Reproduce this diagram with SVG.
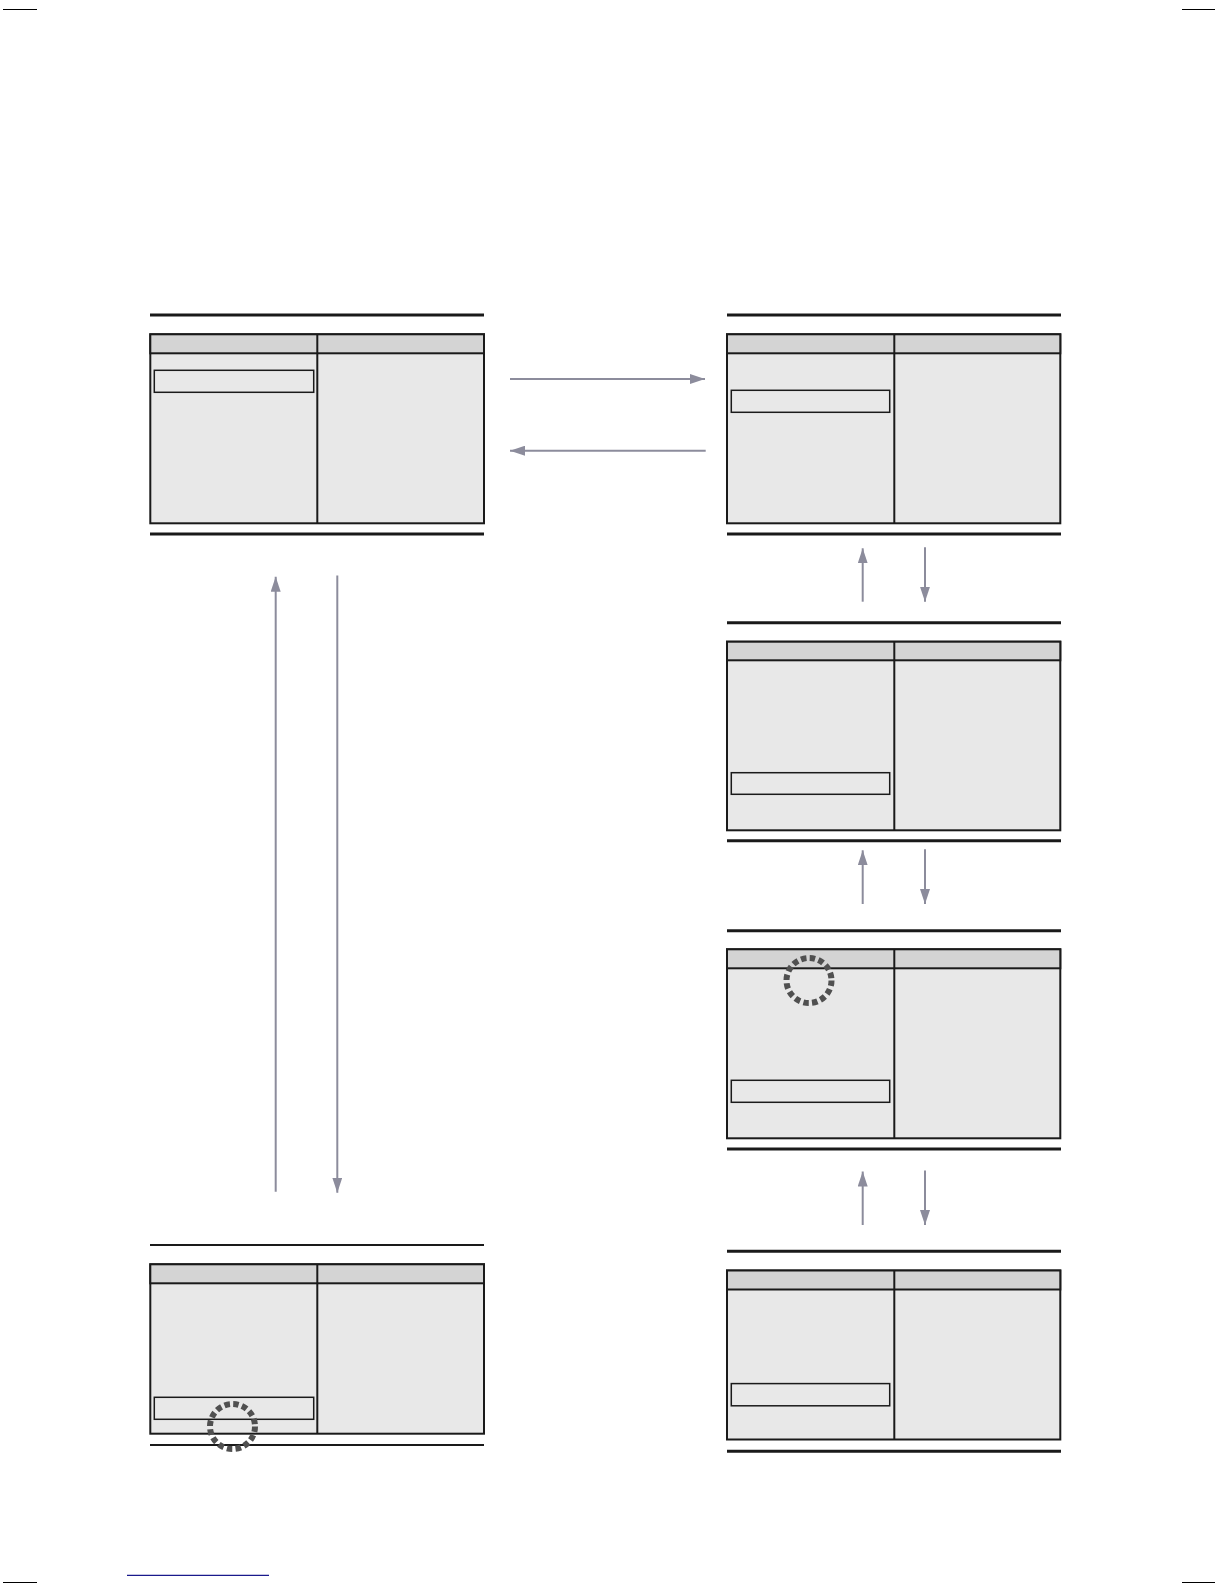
<svg xmlns="http://www.w3.org/2000/svg" width="1224" height="1584" viewBox="0 0 1224 1584">
<style>
.bg{fill:#ffffff}
.rule{stroke:#1a1a1a;stroke-width:3;fill:none}
.rule-thin{stroke:#1a1a1a;stroke-width:2;fill:none}
.frame{fill:#e8e8e8;stroke:#1a1a1a;stroke-width:2}
.head{fill:#d4d4d4;stroke:#1a1a1a;stroke-width:2}
.div{stroke:#1a1a1a;stroke-width:2}
.sel{fill:none;stroke:#1a1a1a;stroke-width:1.5}
.busy{fill:none;stroke:#505050;stroke-width:6;stroke-dasharray:5.5 3.34}
.conn{stroke:#8c8c9c;stroke-width:2;fill:none;marker-end:url(#ah)}
.crop{stroke:#000;stroke-width:1}
</style>
<defs>
<marker id="ah" markerUnits="userSpaceOnUse" markerWidth="15" markerHeight="10" refX="15" refY="5" orient="auto">
<path d="M0,0 L15,5 L0,10 z" fill="#8c8c9c"/>
</marker>
</defs>
<rect class="bg" x="0" y="0" width="1224" height="1584"/>
<g id="page-marks">
<line class="crop" x1="3" y1="9.5" x2="37" y2="9.5"/>
<line class="crop" x1="1182" y1="9.5" x2="1215" y2="9.5"/>
<line class="crop" x1="3" y1="1582.5" x2="37" y2="1582.5"/>
<line class="crop" x1="1182" y1="1582.5" x2="1215" y2="1582.5"/>
<line x1="127" y1="1575.3" x2="269" y2="1575.3" stroke="#1a1a8c" stroke-width="1.2"/>
</g>
<g id="node1">
<line class="rule" x1="150" y1="315" x2="484" y2="315"/>
<rect class="frame" x="150.3" y="334.3" width="333.7" height="189"/>
<rect class="head" x="150.3" y="334.3" width="333.7" height="19"/>
<line class="div" x1="317.3" y1="334.3" x2="317.3" y2="523.3"/>
<rect class="sel" x="154.3" y="370.3" width="159.4" height="22"/>
<line class="rule" x1="150" y1="534" x2="484" y2="534"/>
</g>
<g id="node2">
<line class="rule" x1="727" y1="315" x2="1061" y2="315"/>
<rect class="frame" x="727" y="334.3" width="333.3" height="189"/>
<rect class="head" x="727" y="334.3" width="333.3" height="19"/>
<line class="div" x1="894.3" y1="334.3" x2="894.3" y2="523.3"/>
<rect class="sel" x="731.3" y="390.3" width="158.4" height="22"/>
<line class="rule" x1="727" y1="534" x2="1061" y2="534"/>
</g>
<g id="node3">
<line class="rule" x1="727" y1="622.7" x2="1061" y2="622.7"/>
<rect class="frame" x="727" y="641.7" width="333.3" height="188.6"/>
<rect class="head" x="727" y="641.7" width="333.3" height="18.6"/>
<line class="div" x1="894.3" y1="641.7" x2="894.3" y2="830.3"/>
<rect class="sel" x="731.3" y="772.7" width="158.4" height="21.6"/>
<line class="rule" x1="727" y1="840.7" x2="1061" y2="840.7"/>
</g>
<g id="node4">
<line class="rule" x1="727" y1="930.8" x2="1061" y2="930.8"/>
<rect class="frame" x="727" y="949.3" width="333.3" height="189"/>
<rect class="head" x="727" y="949.3" width="333.3" height="19"/>
<line class="div" x1="894.3" y1="949.3" x2="894.3" y2="1138.3"/>
<rect class="sel" x="731.3" y="1080.3" width="158.4" height="22"/>
<circle class="busy" cx="809" cy="980.5" r="22.5"/>
<line class="rule" x1="727" y1="1149" x2="1061" y2="1149"/>
</g>
<g id="node5">
<line class="rule" x1="727" y1="1251.3" x2="1061" y2="1251.3"/>
<rect class="frame" x="727" y="1270.5" width="333.3" height="169"/>
<rect class="head" x="727" y="1270.5" width="333.3" height="19"/>
<line class="div" x1="894.3" y1="1270.5" x2="894.3" y2="1439.5"/>
<rect class="sel" x="731.3" y="1383.6" width="158.4" height="22.2"/>
<line class="rule" x1="727" y1="1451.2" x2="1061" y2="1451.2"/>
</g>
<g id="node6">
<line class="rule-thin" x1="150" y1="1245" x2="484" y2="1245"/>
<rect class="frame" x="150.3" y="1264.3" width="333.7" height="169.4"/>
<rect class="head" x="150.3" y="1264.3" width="333.7" height="19"/>
<line class="div" x1="317.3" y1="1264.3" x2="317.3" y2="1433.7"/>
<rect class="sel" x="154.3" y="1397.3" width="159.4" height="22"/>
<line class="rule-thin" x1="150" y1="1445" x2="484" y2="1445"/>
<circle class="busy" cx="232.5" cy="1426.5" r="22.5"/>
</g>
<g id="connectors">
<line class="conn" x1="510" y1="379" x2="705" y2="379"/>
<line class="conn" x1="705.7" y1="450.7" x2="510" y2="450.7"/>
<line class="conn" x1="862.7" y1="601.7" x2="862.7" y2="548.3"/>
<line class="conn" x1="925" y1="547.3" x2="925" y2="601.7"/>
<line class="conn" x1="862.7" y1="904" x2="862.7" y2="850.3"/>
<line class="conn" x1="925" y1="849.3" x2="925" y2="904"/>
<line class="conn" x1="862.7" y1="1225" x2="862.7" y2="1171.5"/>
<line class="conn" x1="925" y1="1170.5" x2="925" y2="1225"/>
<line class="conn" x1="275.7" y1="1191.7" x2="275.7" y2="576.7"/>
<line class="conn" x1="337.3" y1="575.6" x2="337.3" y2="1192.7"/>
</g>
</svg>
